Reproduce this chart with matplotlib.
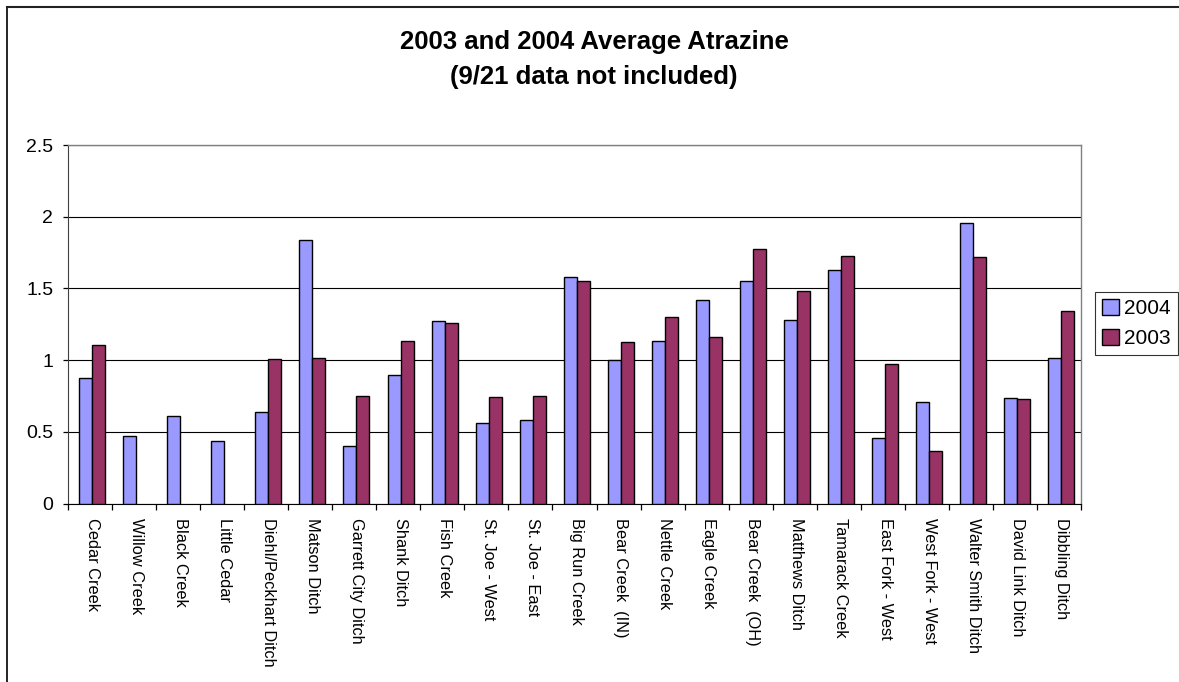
import matplotlib
matplotlib.use("Agg")
import matplotlib.pyplot as plt
import numpy as np
from matplotlib.lines import Line2D

plt.rcParams['font.family'] = ['Liberation Sans', 'DejaVu Sans']

sites = ["Cedar Creek", "Willow Creek", "Black Creek", "Little Cedar",
         "Diehl/Peckhart Ditch", "Matson Ditch", "Garrett City Ditch",
         "Shank Ditch", "Fish Creek", "St. Joe - West", "St. Joe - East",
         "Big Run Creek", "Bear Creek  (IN)", "Nettle Creek", "Eagle Creek",
         "Bear Creek  (OH)", "Matthews Ditch", "Tamarack Creek",
         "East Fork - West", "West Fork - West", "Walter Smith Ditch",
         "David Link Ditch", "Dibbling Ditch"]

avg_2004 = [0.873, 0.47, 0.61, 0.436, 0.636, 1.835, 0.40, 0.898, 1.272,
            0.563, 0.579, 1.581, 1.00, 1.135, 1.417, 1.553, 1.279, 1.626,
            0.454, 0.707, 1.954, 0.735, 1.016]
avg_2003 = [1.105, np.nan, np.nan, np.nan, 1.008, 1.017, 0.752, 1.135, 1.256,
            0.744, 0.751, 1.553, 1.128, 1.298, 1.163, 1.773, 1.479, 1.726,
            0.970, 0.363, 1.717, 0.726, 1.344]

years = ["2004", "2003"]
colors = ["#9999FF", "#993366"]

W, H = 1179, 682
fig = plt.figure(figsize=(W / 100, H / 100), dpi=100)
ax = fig.add_axes([68 / W, 1 - 503.5 / H, (1081 - 68) / W, (503.5 - 145) / H])

x = np.arange(len(sites))
bw = 0.295
ax.bar(x - bw / 2 + 0.05, avg_2004, bw, color=colors[0], edgecolor="black",
       linewidth=1.0, label=years[0], zorder=3)
ax.bar(x + bw / 2 + 0.05, avg_2003, bw, color=colors[1], edgecolor="black",
       linewidth=1.0, label=years[1], zorder=3)

ax.set_xlim(-0.5, len(sites) - 0.5)
ax.set_ylim(0, 2.5)
ax.set_yticks([0, 0.5, 1, 1.5, 2, 2.5])
ax.set_yticklabels(["0", "0.5", "1", "1.5", "2", "2.5"], fontsize=14)
ax.yaxis.grid(True, color="black", linewidth=0.8, zorder=0)
ax.set_axisbelow(True)

# category boundary ticks on the x axis, labels centred under each pair
ax.set_xticks(np.arange(-0.5, len(sites), 1.0))
ax.set_xticklabels([])
ax.tick_params(axis="x", which="major", direction="out", length=4, width=0.9)
ax.tick_params(axis="y", direction="out", length=3.6, width=0.9, pad=7)
for xi, name in zip(x, sites):
    ax.text(xi + 0.05, -0.04, name, rotation=270, ha="center", va="top",
            fontsize=11.8, transform=ax.get_xaxis_transform())

for side in ("top", "right"):
    ax.spines[side].set_color("#808080")
    ax.spines[side].set_linewidth(1.0)
ax.spines["left"].set_color("#404040")
ax.spines["bottom"].set_color("black")

leg = ax.legend(loc="upper left", bbox_to_anchor=(1095 / W, 1 - 292 / H),
                bbox_transform=fig.transFigure, fontsize=15, frameon=True,
                fancybox=False, edgecolor="black", handlelength=0.8,
                handleheight=0.8, handletextpad=0.25, borderpad=0.35,
                labelspacing=0.5, borderaxespad=0)
leg.get_frame().set_linewidth(0.8)

fig.text(594 / W, 1 - 42 / H, "2003 and 2004 Average Atrazine",
         ha="center", va="center", fontsize=18.5, fontweight="bold")
fig.text(594 / W, 1 - 77 / H, "(9/21 data not included)",
         ha="center", va="center", fontsize=18.5, fontweight="bold")

# chart frame (left and top edges)
fig.add_artist(Line2D([7 / W, 7 / W], [0, 1 - 7 / H], color="black",
                      linewidth=1.2, transform=fig.transFigure))
fig.add_artist(Line2D([7 / W, 1], [1 - 7 / H, 1 - 7 / H], color="#222222",
                      linewidth=1.5, transform=fig.transFigure))

fig.savefig("out.png", dpi=100)
